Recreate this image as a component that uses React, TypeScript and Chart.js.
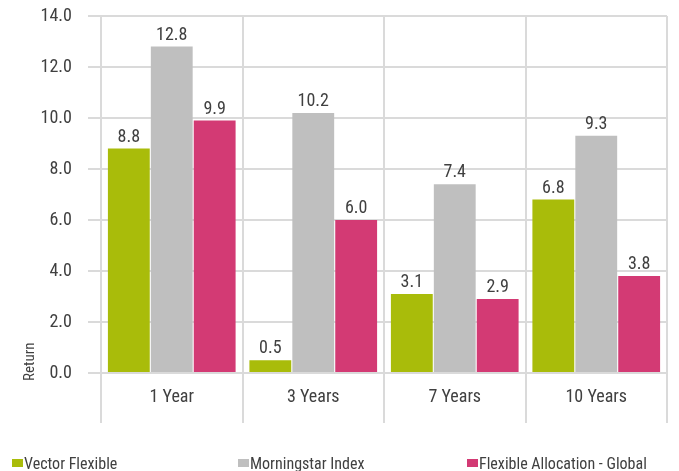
import React, { useEffect, useRef } from "react";
import { Chart, registerables } from "chart.js";

Chart.register(...registerables);

const categories = ["1 Year", "3 Years", "7 Years", "10 Years"];
const seriesNames = ["Vector Flexible", "Morningstar Index", "Flexible Allocation - Global"];
const vectorFlexible = [8.8, 0.5, 3.1, 6.8];
const morningstarIndex = [12.8, 10.2, 7.4, 9.3];
const flexibleAllocation = [9.9, 6.0, 2.9, 3.8];
const seriesColors = ["#A9BC0A", "#BFBFBF", "#D33A74"];
const yTicksMin = 0;
const yTicksMax = 14;
const yTicksStep = 2;
const axisTitle = "Return";

const FONT = "'Liberation Sans Narrow', 'Roboto Condensed', 'DejaVu Sans Condensed', sans-serif";
const TEXT = "#404040";
const GRID = "#DADADA";

const valueLabels = {
  id: "valueLabels",
  afterDatasetsDraw(chart: any) {
    const ctx = chart.ctx;
    ctx.save();
    ctx.font = `18px ${FONT}`;
    ctx.fillStyle = TEXT;
    ctx.textAlign = "center";
    ctx.textBaseline = "alphabetic";
    chart.data.datasets.forEach((ds: any, i: number) => {
      const meta = chart.getDatasetMeta(i);
      meta.data.forEach((bar: any, j: number) => {
        ctx.fillText(Number(ds.data[j]).toFixed(1), bar.x, bar.y - 7);
      });
    });
    ctx.restore();
  },
};

const yAxisTitle = {
  id: "yAxisTitle",
  afterDraw(chart: any) {
    const ctx = chart.ctx;
    const yScale = chart.scales.y;
    ctx.save();
    ctx.font = `15px ${FONT}`;
    ctx.fillStyle = TEXT;
    ctx.translate(yScale.left + 34, chart.chartArea.bottom + 8);
    ctx.rotate(-Math.PI / 2);
    ctx.textAlign = "left";
    ctx.textBaseline = "alphabetic";
    ctx.fillText(axisTitle, 0, 0);
    ctx.restore();
  },
};

export default function App() {
  const ref = useRef<HTMLCanvasElement>(null);
  useEffect(() => {
    const seriesData = [vectorFlexible, morningstarIndex, flexibleAllocation];
    const chart = new Chart(ref.current as HTMLCanvasElement, {
      type: "bar",
      data: {
        labels: categories,
        datasets: seriesNames.map((name, i) => ({
          label: name,
          data: seriesData[i],
          backgroundColor: seriesColors[i],
          borderWidth: 0,
          categoryPercentage: 0.91,
          barPercentage: 0.975,
        })),
      },
      options: {
        animation: false,
        responsive: true,
        maintainAspectRatio: false,
        devicePixelRatio: 1,
        layout: { padding: { top: 16, right: 12, bottom: 0, left: 0 } },
        plugins: {
          legend: { display: false },
          tooltip: { enabled: false },
        },
        scales: {
          x: {
            grid: {
              offset: true,
              color: GRID,
              lineWidth: 2,
              drawTicks: true,
              tickLength: 50,
            },
            border: { display: true, color: GRID, width: 2 },
            ticks: {
              font: { family: FONT, size: 18 },
              color: TEXT,
              padding: -36,
            },
            afterFit(scale: any) {
              scale.height = 98;
            },
          },
          y: {
            min: yTicksMin,
            max: yTicksMax,
            grid: { color: GRID, lineWidth: 2, tickLength: 13 },
            border: { display: true, color: GRID, width: 2 },
            ticks: {
              stepSize: yTicksStep,
              font: { family: FONT, size: 18 },
              color: TEXT,
              padding: 16,
              callback: (v: any) => Number(v).toFixed(1),
            },
            afterFit(scale: any) {
              scale.width = 101;
              scale.paddingTop = 0;
              scale.paddingBottom = 0;
            },
          },
        },
      },
      plugins: [valueLabels, yAxisTitle],
    } as any);
    return () => chart.destroy();
  }, []);

  const legendLefts = [12, 238, 467];
  return (
    <div style={{ position: "fixed", left: 0, top: 0, width: 679, height: 471, overflow: "hidden", background: "#fff" }}>
      <canvas ref={ref} width={679} height={471} />
      {seriesNames.map((name, i) => (
        <div
          key={name}
          style={{
            position: "absolute",
            left: legendLefts[i],
            top: 454,
            height: 20,
            lineHeight: "20px",
            fontFamily: FONT,
            fontSize: 16,
            color: TEXT,
            whiteSpace: "nowrap",
            display: "flex",
          }}
        >
          <span style={{ display: "inline-block", width: 11, height: 8, marginTop: 5, marginRight: 1, background: seriesColors[i] }} />
          <span>{name}</span>
        </div>
      ))}
    </div>
  );
}
